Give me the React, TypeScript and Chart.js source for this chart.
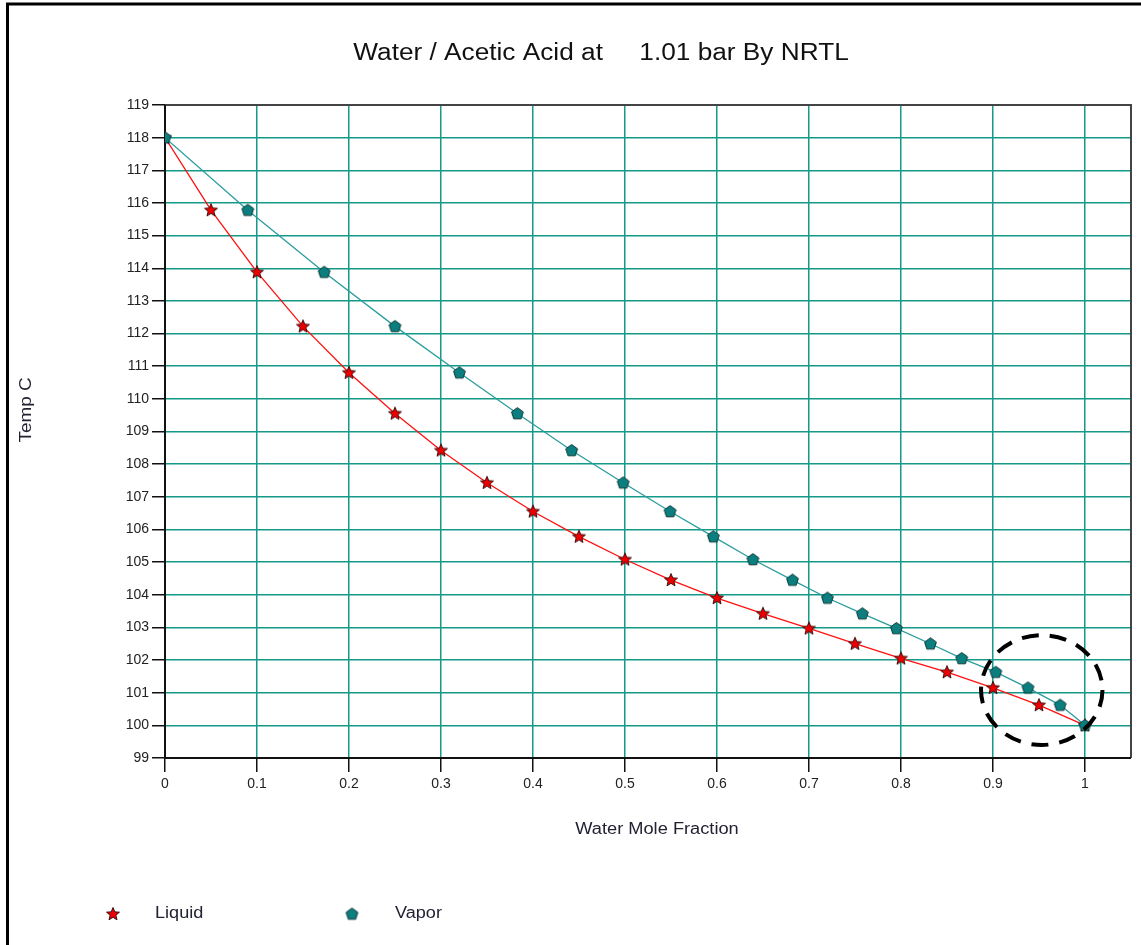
import { useEffect, useRef } from 'react';
import { Chart, registerables } from 'chart.js';

Chart.register(...registerables);

const TITLE = 'Water / Acetic Acid at     1.01 bar By NRTL';
const X_TITLE = 'Water Mole Fraction';
const Y_TITLE = 'Temp C';
const SERIES_NAMES = ['Liquid', 'Vapor'];

const xTickValues = [0, 0.1, 0.2, 0.3, 0.4, 0.5, 0.6, 0.7, 0.8, 0.9, 1];

const liquidX = [0, 0.05, 0.1, 0.15, 0.2, 0.25, 0.3, 0.35, 0.4, 0.45, 0.5, 0.55, 0.6, 0.65, 0.7, 0.75, 0.8, 0.85, 0.9, 0.95, 1];
const liquidTemp = [118, 115.78, 113.88, 112.22, 110.8, 109.55, 108.42, 107.43, 106.55, 105.78, 105.08, 104.45, 103.9, 103.42, 102.97, 102.5, 102.05, 101.63, 101.15, 100.62, 100];
const vaporX = [0, 0.09, 0.173, 0.25, 0.32, 0.383, 0.442, 0.498, 0.549, 0.596, 0.639, 0.682, 0.72, 0.758, 0.795, 0.832, 0.866, 0.903, 0.938, 0.973, 1];
const vaporTemp = [118, 115.78, 113.88, 112.22, 110.8, 109.55, 108.42, 107.43, 106.55, 105.78, 105.08, 104.45, 103.9, 103.42, 102.97, 102.5, 102.05, 101.63, 101.15, 100.62, 100];

// highlighted region (data coordinates): center x, center y, radius x, radius y
const highlightEllipse = [0.953, 101.08, 0.066, 1.68];

const FONT = '"Liberation Sans", Arial, sans-serif';
const GRID = '#14998a';
const RED = '#ff1010';
const TEAL_LINE = '#2a9d9d';

function makeStar(): HTMLCanvasElement {
  const c = document.createElement('canvas');
  c.width = 16;
  c.height = 16;
  const g = c.getContext('2d')!;
  const cx = 8, cy = 8.3, ro = 6.8, ri = 3.0;
  g.beginPath();
  for (let i = 0; i < 10; i++) {
    const r = i % 2 === 0 ? ro : ri;
    const a = -Math.PI / 2 + (i * Math.PI) / 5;
    const x = cx + r * Math.cos(a);
    const y = cy + r * Math.sin(a);
    if (i === 0) g.moveTo(x, y);
    else g.lineTo(x, y);
  }
  g.closePath();
  g.fillStyle = '#ee0000';
  g.fill();
  g.strokeStyle = '#3a1010';
  g.lineWidth = 1;
  g.stroke();
  return c;
}

function makePentagon(): HTMLCanvasElement {
  const c = document.createElement('canvas');
  c.width = 15;
  c.height = 15;
  const g = c.getContext('2d')!;
  const cx = 7.5, cy = 7.8, r = 6.2;
  g.beginPath();
  for (let i = 0; i < 5; i++) {
    const a = -Math.PI / 2 + (i * 2 * Math.PI) / 5;
    const x = cx + r * Math.cos(a);
    const y = cy + r * Math.sin(a);
    if (i === 0) g.moveTo(x, y);
    else g.lineTo(x, y);
  }
  g.closePath();
  g.fillStyle = '#0b7f7f';
  g.fill();
  g.strokeStyle = '#0a3535';
  g.lineWidth = 1;
  g.stroke();
  return c;
}

function drawText(
  ctx: CanvasRenderingContext2D,
  text: string,
  x: number,
  y: number,
  size: number,
  stretch: number,
  align: CanvasTextAlign,
  rotate = 0,
) {
  ctx.save();
  ctx.translate(x, y);
  if (rotate) ctx.rotate(rotate);
  ctx.scale(stretch, 1);
  ctx.font = `${size}px ${FONT}`;
  ctx.textAlign = align;
  ctx.textBaseline = 'middle';
  ctx.fillText(text, 0, 0);
  ctx.restore();
}

export default function App() {
  const ref = useRef<HTMLCanvasElement | null>(null);

  useEffect(() => {
    const canvas = ref.current;
    if (!canvas) return;
    const star = makeStar();
    const pent = makePentagon();

    const decor = {
      id: 'decor',
      beforeDraw(chart: any) {
        const { ctx } = chart;
        ctx.save();
        ctx.fillStyle = '#ffffff';
        ctx.fillRect(0, 0, chart.width, chart.height);
        ctx.restore();
      },
      beforeDatasetsDraw(chart: any) {
        const { ctx, chartArea: a } = chart;
        ctx.save();
        ctx.strokeStyle = '#444444';
        ctx.lineWidth = 2;
        ctx.beginPath();
        ctx.moveTo(a.left, a.top);
        ctx.lineTo(a.right, a.top);
        ctx.lineTo(a.right, a.bottom);
        ctx.stroke();
        ctx.strokeStyle = '#111111';
        ctx.beginPath();
        ctx.moveTo(a.left, a.top);
        ctx.lineTo(a.left, a.bottom);
        ctx.lineTo(a.right, a.bottom);
        ctx.stroke();
        ctx.restore();
      },
      afterDraw(chart: any) {
        const { ctx } = chart;
        const xs = chart.scales.x;
        const ys = chart.scales.y;
        ctx.save();
        // outer frame
        ctx.strokeStyle = '#000000';
        ctx.lineWidth = 3;
        ctx.beginPath();
        ctx.moveTo(7.5, 960);
        ctx.lineTo(7.5, 4);
        ctx.lineTo(1160, 4);
        ctx.stroke();

        // title
        ctx.fillStyle = '#111111';
        drawText(ctx, TITLE, 601, 54, 23, 1.14, 'center');

        // axis titles
        ctx.fillStyle = '#222233';
        drawText(ctx, X_TITLE, 657, 830, 16, 1.14, 'center');
        drawText(ctx, Y_TITLE, 27, 410, 16, 1.18, 'center', -Math.PI / 2);

        // legend
        ctx.drawImage(star, 113 - star.width / 2, 914 - star.height / 2);
        drawText(ctx, SERIES_NAMES[0], 155, 914, 16, 1.13, 'left');
        ctx.drawImage(pent, 352 - pent.width / 2, 914 - pent.height / 2);
        drawText(ctx, SERIES_NAMES[1], 395, 914, 16, 1.13, 'left');

        // dashed highlight ellipse
        const [ecx, ecy, erx, ery] = highlightEllipse;
        const px = xs.getPixelForValue(ecx);
        const py = ys.getPixelForValue(ecy);
        const prx = Math.abs(xs.getPixelForValue(ecx + erx) - px);
        const pry = Math.abs(ys.getPixelForValue(ecy + ery) - py);
        ctx.strokeStyle = '#000000';
        ctx.lineWidth = 4;
        ctx.setLineDash([17, 11]);
        ctx.beginPath();
        ctx.ellipse(px, py, prx, pry, 0, 0, Math.PI * 2);
        ctx.stroke();
        ctx.restore();
      },
    };

    const chart = new Chart(canvas, {
      type: 'line',
      data: {
        datasets: [
          {
            label: SERIES_NAMES[1],
            data: vaporX.map((x, i) => ({ x, y: vaporTemp[i] })),
            borderColor: TEAL_LINE,
            borderWidth: 1.3,
            pointStyle: pent as any,
            pointRadius: 6,
            tension: 0,
          },
          {
            label: SERIES_NAMES[0],
            data: liquidX.map((x, i) => ({ x, y: liquidTemp[i] })),
            borderColor: RED,
            borderWidth: 1.3,
            pointStyle: star as any,
            pointRadius: 6,
            tension: 0,
          },
        ],
      },
      options: {
        responsive: false,
        animation: false,
        layout: { padding: { left: 0, right: 10, top: 105, bottom: 0 } },
        plugins: {
          legend: { display: false },
          title: { display: false },
          tooltip: { enabled: false },
        },
        scales: {
          x: {
            type: 'linear',
            min: 0,
            max: 1.05,
            afterFit: (s: any) => {
              s.height = 187;
            },
            afterBuildTicks: (s: any) => {
              s.ticks = xTickValues.map((value) => ({ value }));
            },
            ticks: {
              padding: 4,
              color: '#222222',
              font: { family: FONT, size: 14 },
              callback: (v: any) => String(Number(Number(v).toFixed(2))),
              maxRotation: 0,
              autoSkip: false,
            },
            grid: {
              color: GRID,
              lineWidth: 1.5,
              tickColor: '#111111',
              tickLength: 14,
              drawTicks: true,
            },
            border: { display: false },
          },
          y: {
            type: 'linear',
            min: 99,
            max: 119,
            afterFit: (s: any) => {
              s.width = 165;
            },
            ticks: {
              stepSize: 1,
              padding: 3,
              color: '#222222',
              font: { family: FONT, size: 14 },
              autoSkip: false,
            },
            grid: {
              color: GRID,
              lineWidth: 1.5,
              tickColor: '#111111',
              tickLength: 13,
              drawTicks: true,
            },
            border: { display: false },
          },
        },
      },
      plugins: [decor],
    });

    return () => chart.destroy();
  }, []);

  return (
    <div style={{ position: 'fixed', left: 0, top: 0, width: 1141, height: 945, background: '#fff' }}>
      <canvas ref={ref} width={1141} height={945} style={{ display: 'block' }} />
    </div>
  );
}
